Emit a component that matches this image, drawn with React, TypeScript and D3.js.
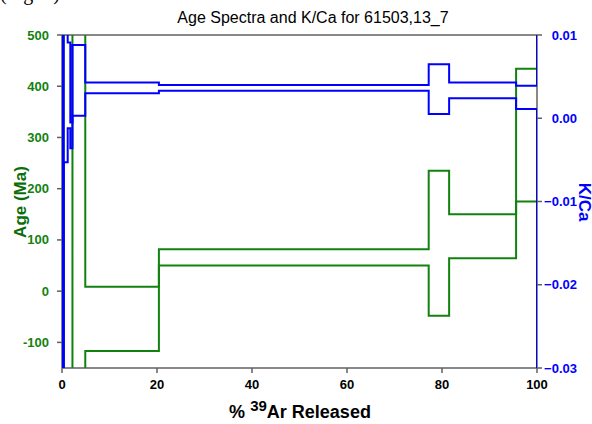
import { useMemo } from "react";
import * as d3 from "d3";

const WIDTH = 592;
const HEIGHT = 424;
const PLOT = { left: 62, right: 537, top: 35, bottom: 368 };

// cumulative % 39Ar at each heating-step boundary
const stepEdges = [0, 0.35, 1.2, 1.75, 2.2, 4.9, 20.4, 77.2, 81.5, 95.6, 100];
// age (Ma) error envelope per step
const ageUpper = [3000, -300, -250, -300, 5000, 8.7, 82, 235, 150, 434];
const ageLower = [-3000, -700, -700, -600, -1000, -117, 50, -48, 64, 175];
// K/Ca error envelope per step
const kcaUpper = [-0.04, 0.03, 0.0091, -0.0005, 0.0088, 0.0043, 0.004, 0.0065, 0.0043, 0.0039];
const kcaLower = [-0.05, -0.0053, -0.0012, -0.0036, 0.0003, 0.003, 0.0033, 0.0005, 0.0024, 0.0011];

const ageTicks = [500, 400, 300, 200, 100, 0, -100];
const kcaTicks = [0.01, 0, -0.01, -0.02, -0.03];
const xTicks = [0, 20, 40, 60, 80, 100];

const GREEN = "#12820f";
const BLUE = "#0000ff";
const AXIS = "#606060";
const FONT = "'Liberation Sans', Arial, sans-serif";

function stepPoints(values: number[], endValue: number): [number, number][] {
  const pts: [number, number][] = [[stepEdges[0], endValue]];
  values.forEach((v, i) => {
    pts.push([stepEdges[i], v]);
    pts.push([stepEdges[i + 1], v]);
  });
  pts.push([stepEdges[stepEdges.length - 1], endValue]);
  return pts;
}

export default function App() {
  const x = useMemo(() => d3.scaleLinear().domain([0, 100]).range([PLOT.left, PLOT.right]), []);
  const yAge = useMemo(() => d3.scaleLinear().domain([-150, 500]).range([PLOT.bottom, PLOT.top]), []);
  const yKca = useMemo(() => d3.scaleLinear().domain([-0.03, 0.01]).range([PLOT.bottom, PLOT.top]), []);

  const clampAge = (v: number) => Math.max(-400, Math.min(800, v));
  const clampKca = (v: number) => Math.max(-0.05, Math.min(0.03, v));

  const ageLine = d3.line<[number, number]>().x((d) => x(d[0])).y((d) => yAge(clampAge(d[1])));
  const kcaLine = d3.line<[number, number]>().x((d) => x(d[0])).y((d) => yKca(clampKca(d[1])));

  const fmtKca = d3.format(".2f");
  const midY = 202;

  return (
    <div style={{ position: "absolute", left: 0, top: 0 }}>
      <svg width={WIDTH} height={HEIGHT} viewBox={`0 0 ${WIDTH} ${HEIGHT}`} style={{ display: "block", background: "#fff" }}>
        <defs>
          <clipPath id="plot-clip">
            <rect x={PLOT.left} y={PLOT.top} width={PLOT.right - PLOT.left} height={PLOT.bottom - PLOT.top} />
          </clipPath>
        </defs>

        <text x={0} y={0} fontFamily="'Liberation Serif', serif" fontSize={20}>(Fig. 2)</text>

        <text x={313} y={23} textAnchor="middle" fontFamily={FONT} fontSize={16}>
          Age Spectra and K/Ca for 61503,13_7
        </text>

        {/* frame */}
        <line x1={PLOT.left} x2={PLOT.right} y1={PLOT.top} y2={PLOT.top} stroke={AXIS} strokeWidth={1.5} />
        <line x1={PLOT.left} x2={PLOT.right} y1={PLOT.bottom} y2={PLOT.bottom} stroke={AXIS} strokeWidth={1.5} />
        <line x1={PLOT.left} x2={PLOT.left} y1={PLOT.top} y2={PLOT.bottom} stroke={AXIS} strokeWidth={1.5} />
        <line x1={PLOT.right} x2={PLOT.right} y1={PLOT.top} y2={PLOT.bottom} stroke={AXIS} strokeWidth={1.5} />

        {/* data */}
        <g clipPath="url(#plot-clip)" fill="none" strokeWidth={2}>
          <path d={ageLine(stepPoints(ageUpper, 800)) ?? ""} stroke={GREEN} />
          <path d={ageLine(stepPoints(ageLower, -400)) ?? ""} stroke={GREEN} />
          <path d={kcaLine(stepPoints(kcaUpper, 0.03)) ?? ""} stroke={BLUE} />
          <path d={kcaLine(stepPoints(kcaLower, -0.05)) ?? ""} stroke={BLUE} />
        </g>

        {/* left axis */}
        {ageTicks.map((t) => (
          <g key={`a${t}`}>
            <line x1={PLOT.left - 5} x2={PLOT.left} y1={yAge(t)} y2={yAge(t)} stroke={AXIS} strokeWidth={1.5} />
            <text x={49} y={yAge(t)} dy="0.35em" textAnchor="end" fontFamily={FONT} fontSize={13} fontWeight="bold" fill={GREEN}>
              {t}
            </text>
          </g>
        ))}
        <text
          transform={`translate(26,${midY}) rotate(-90)`}
          textAnchor="middle"
          fontFamily={FONT}
          fontSize={17}
          fontWeight="bold"
          fill="#0b6e0b"
        >
          Age (Ma)
        </text>

        {/* right axis */}
        {kcaTicks.map((t) => (
          <g key={`k${t}`}>
            <line x1={PLOT.right} x2={PLOT.right + 5} y1={yKca(t)} y2={yKca(t)} stroke={AXIS} strokeWidth={1.5} />
            <text x={577} y={yKca(t)} dy="0.35em" textAnchor="end" fontFamily={FONT} fontSize={13} fontWeight="bold" fill={BLUE}>
              {fmtKca(t)}
            </text>
          </g>
        ))}
        <text
          transform={`translate(579,${midY}) rotate(90)`}
          textAnchor="middle"
          fontFamily={FONT}
          fontSize={17}
          fontWeight="bold"
          fill={BLUE}
        >
          K/Ca
        </text>

        {/* bottom axis */}
        {xTicks.map((t) => (
          <g key={`x${t}`}>
            <line x1={x(t)} x2={x(t)} y1={PLOT.bottom} y2={PLOT.bottom + 5} stroke={AXIS} strokeWidth={1.5} />
            <text x={x(t)} y={389} textAnchor="middle" fontFamily={FONT} fontSize={13} fontWeight="bold">
              {t}
            </text>
          </g>
        ))}
        <text x={300} y={418} textAnchor="middle" fontFamily={FONT} fontSize={18} fontWeight="bold">
          %{" "}
          <tspan fontSize={15} dy={-7}>39</tspan>
          <tspan dy={7}>Ar Released</tspan>
        </text>
      </svg>
    </div>
  );
}
